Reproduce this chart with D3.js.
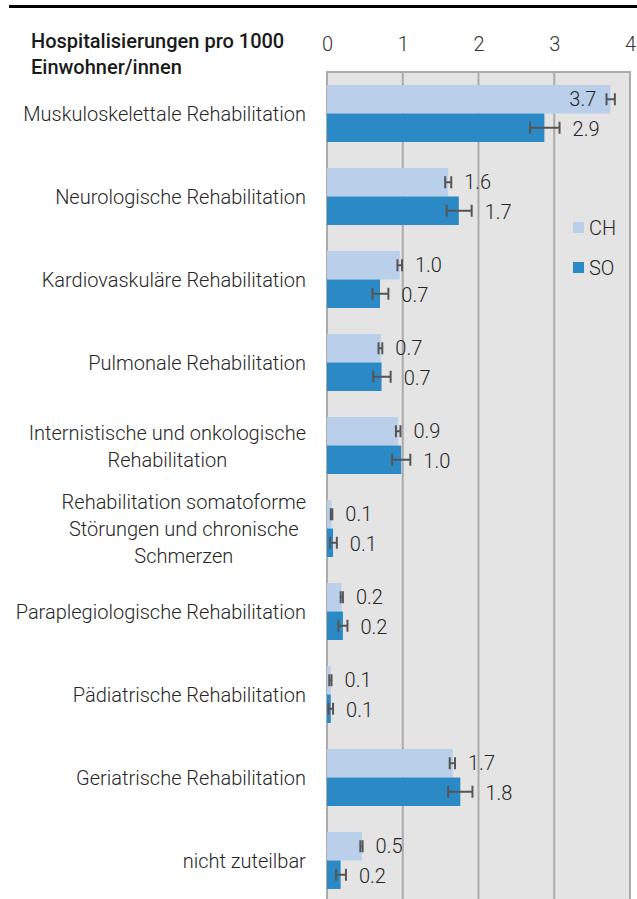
<!DOCTYPE html>
<html><head><meta charset="utf-8">
<script src="https://cdn.jsdelivr.net/npm/d3@7"></script>
<style>
body{margin:0;background:#fff;}
svg{display:block;}
text{font-family:Roboto, "Noto Sans", sans-serif;}
</style></head>
<body>
<svg id="chart" width="637" height="899"></svg>
<script>
const categories = [
  "Muskuloskelettale Rehabilitation",
  "Neurologische Rehabilitation",
  "Kardiovaskuläre Rehabilitation",
  "Pulmonale Rehabilitation",
  "Internistische und onkologische|Rehabilitation",
  "Rehabilitation somatoforme|Störungen und chronische|Schmerzen",
  "Paraplegiologische Rehabilitation",
  "Pädiatrische Rehabilitation",
  "Geriatrische Rehabilitation",
  "nicht zuteilbar"
];
const series = ["CH", "SO"];
const chValues = [3.74, 1.60, 0.96, 0.71, 0.94, 0.06, 0.19, 0.05, 1.66, 0.46];
const chLow    = [3.69, 1.56, 0.93, 0.68, 0.91, 0.05, 0.18, 0.03, 1.62, 0.44];
const chHigh   = [3.80, 1.64, 0.99, 0.73, 0.97, 0.07, 0.21, 0.06, 1.69, 0.47];
const chLabels = ["3.7","1.6","1.0","0.7","0.9","0.1","0.2","0.1","1.7","0.5"];
const soValues = [2.87, 1.74, 0.70, 0.72, 0.98, 0.08, 0.21, 0.05, 1.76, 0.18];
const soLow    = [2.68, 1.58, 0.60, 0.61, 0.86, 0.04, 0.15, 0.02, 1.60, 0.12];
const soHigh   = [3.07, 1.91, 0.81, 0.84, 1.10, 0.13, 0.27, 0.08, 1.92, 0.25];
const soLabels = ["2.9","1.7","0.7","0.7","1.0","0.1","0.2","0.1","1.8","0.2"];
const xTicks = [0, 1, 2, 3, 4];
const titleLines = ["Hospitalisierungen pro 1000", "Einwohner/innen"];
const colors = {CH: "#b9cfea", SO: "#2b8ac6"};

const svg = d3.select("#chart");
const pLeft = 327, pRight = 630, pTop = 72, pBottom = 902;
const fs = 20;

const x = d3.scaleLinear().domain([0, 4]).range([pLeft, pRight]);
const y0 = d3.scaleBand().domain(categories).range([pTop, pBottom])
  .paddingInner(26/83).paddingOuter(13/83);
const y1 = d3.scaleBand().domain(series).range([0, y0.bandwidth()]);

// top rule
svg.append("line").attr("x1", 9).attr("x2", 637).attr("y1", 6.5).attr("y2", 6.5)
  .attr("stroke", "#000").attr("stroke-width", 3);

// title
svg.append("text").attr("x", 31).attr("y", 48).attr("font-size", fs)
  .attr("font-weight", 500).attr("fill", "#1a1a1a")
  .selectAll("tspan").data(titleLines).join("tspan")
  .attr("x", 31).attr("dy", (d, i) => i ? 26 : 0).text(d => d);

// plot background
svg.append("rect").attr("x", pLeft).attr("y", pTop).attr("width", pRight - pLeft)
  .attr("height", pBottom - pTop).attr("fill", "#e4e4e4");

// gridlines
svg.append("g").selectAll("line").data(xTicks).join("line")
  .attr("x1", d => x(d)).attr("x2", d => x(d)).attr("y1", pTop).attr("y2", pBottom)
  .attr("stroke", "#ababab").attr("stroke-width", 2);
svg.append("line").attr("x1", pLeft - 1).attr("x2", pRight + 1).attr("y1", pTop).attr("y2", pTop)
  .attr("stroke", "#ababab").attr("stroke-width", 2);

// x axis on top
const axis = d3.axisTop(x).tickValues(xTicks).tickSize(0).tickPadding(0).tickFormat(d3.format("d"));
const ag = svg.append("g").attr("transform", `translate(0,51)`).call(axis);
ag.select(".domain").remove();
ag.selectAll("text").attr("font-size", fs).attr("font-weight", 300).attr("fill", "#333")
  .attr("font-family", "Roboto, sans-serif");

// data rows
const rows = categories.map((c, i) => ({
  cat: c,
  items: [
    {s: "CH", v: chValues[i], lo: chLow[i], hi: chHigh[i], lab: chLabels[i]},
    {s: "SO", v: soValues[i], lo: soLow[i], hi: soHigh[i], lab: soLabels[i]}
  ]
}));

const g = svg.append("g").selectAll("g").data(rows).join("g")
  .attr("transform", d => `translate(0,${y0(d.cat)})`);

const items = g.selectAll("g").data(d => d.items).join("g")
  .attr("transform", d => `translate(0,${y1(d.s)})`);

items.append("rect").attr("x", x(0)).attr("y", 0)
  .attr("width", d => x(d.v) - x(0)).attr("height", y1.bandwidth())
  .attr("fill", d => colors[d.s]);

const cy = y1.bandwidth() / 2;
const capH = 12;
items.append("line").attr("x1", d => x(d.lo)).attr("x2", d => x(d.hi))
  .attr("y1", cy).attr("y2", cy).attr("stroke", "#555").attr("stroke-width", 2);
items.append("line").attr("x1", d => x(d.lo)).attr("x2", d => x(d.lo))
  .attr("y1", cy - capH/2).attr("y2", cy + capH/2).attr("stroke", "#555").attr("stroke-width", 2);
items.append("line").attr("x1", d => x(d.hi)).attr("x2", d => x(d.hi))
  .attr("y1", cy - capH/2).attr("y2", cy + capH/2).attr("stroke", "#555").attr("stroke-width", 2);

const overflow = d => x(d.hi) + 14 + 30 > pRight;
items.append("text")
  .attr("x", d => overflow(d) ? x(d.v) - 14 : x(d.hi) + 13)
  .attr("text-anchor", d => overflow(d) ? "end" : "start")
  .attr("y", d => cy + (d.s === "CH" ? 0 : 1.5)).attr("dy", "0.35em")
  .attr("font-size", fs).attr("font-weight", 300).attr("fill", "#262626")
  .text(d => d.lab);

// category labels
g.each(function(d) {
  const lines = d.cat.split("|");
  const t = d3.select(this).append("text")
    .attr("y", y0.bandwidth() / 2 + 7.5).attr("font-size", fs).attr("font-weight", 300)
    .attr("fill", "#262626");
  lines.forEach((ln, i) => {
    t.append("tspan").attr("x", 0).attr("dy", i === 0 ? (-(lines.length - 1) * 27 / 2) : 27)
      .text(ln);
  });
  const w = t.node().getBBox().width;
  t.selectAll("tspan").attr("x", 306 - w / 2).attr("text-anchor", "middle");
});

// legend
const legend = svg.append("g").selectAll("g").data(series).join("g")
  .attr("transform", (d, i) => `translate(573,${222 + i * 40})`);
legend.append("rect").attr("width", 11).attr("height", 11).attr("fill", d => colors[d]);
legend.append("text").attr("x", 16).attr("y", 6).attr("dy", "0.35em")
  .attr("font-size", fs).attr("font-weight", 300).attr("fill", "#262626").text(d => d);
</script>
</body></html>
